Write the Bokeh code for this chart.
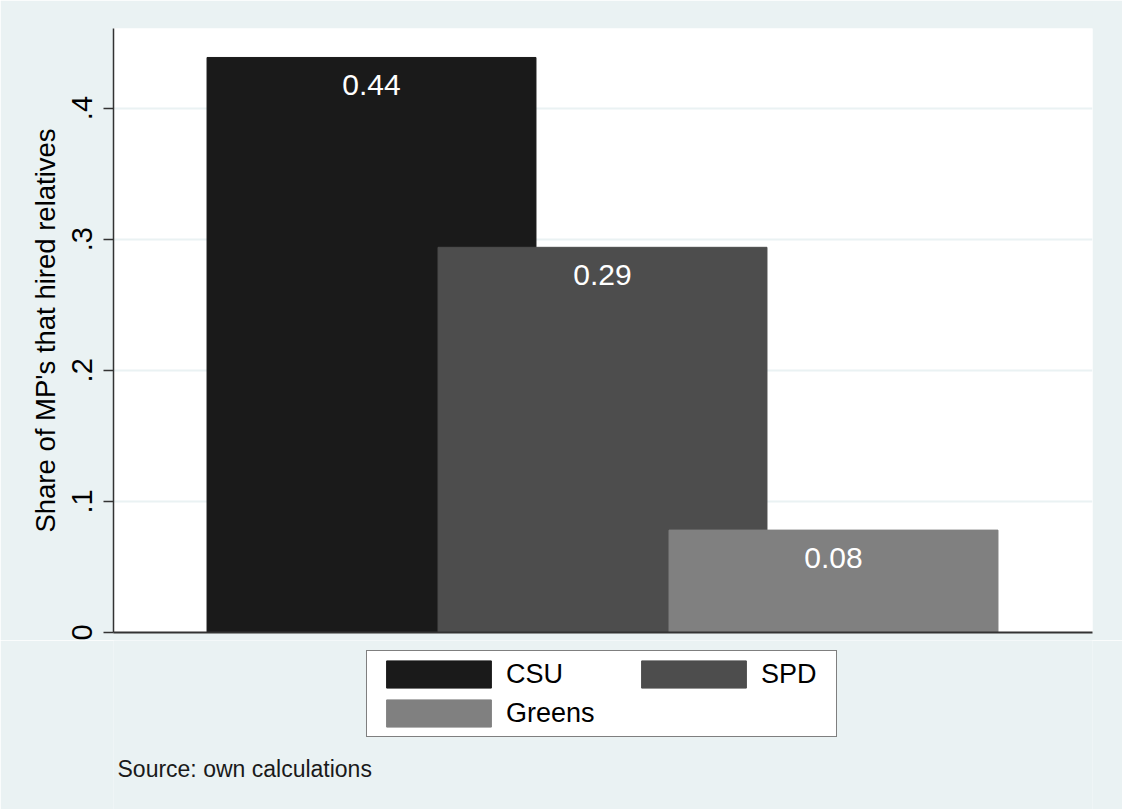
from bokeh.plotting import figure
from bokeh.layouts import column
from bokeh.models import (ColumnDataSource, Legend, LegendItem, Label, FixedTicker,
                          CustomJSTickFormatter, Range1d)
from bokeh.core.properties import value
from bokeh.embed import file_html
from bokeh.resources import INLINE

# ---- data ----
parties = ["CSU", "SPD", "Greens"]
shares = [0.4386, 0.2938, 0.0781]
colors = ["#1a1a1a", "#4d4d4d", "#808080"]
y_ticks = [0, 0.1, 0.2, 0.3, 0.4]
y_title = "Share of MP's that hired relatives"
note = "Source: own calculations"

positions = [1, 2, 3]
labels = ["%.2f" % s for s in shares]

BG = "#EAF2F3"
FONT = "Liberation Sans"

src = ColumnDataSource(dict(x=positions, top=shares, color=colors,
                            party=parties, label=labels))

# ---------------- main plot ----------------
p = figure(width=1122, height=640, output_backend="svg", toolbar_location=None,
           x_range=Range1d(-0.1169, 4.1212), y_range=Range1d(0, 0.4607),
           min_border_left=113, min_border_right=30, min_border_top=28,
           min_border_bottom=8)
p.background_fill_color = "white"
p.border_fill_color = BG
p.outline_line_color = None

p.xgrid.visible = False
p.ygrid.ticker = FixedTicker(ticks=y_ticks[1:])
p.ygrid.grid_line_color = BG
p.ygrid.grid_line_width = 2

r = p.vbar(x="x", top="top", width=1.424, bottom=0, source=src,
           fill_color="color", line_color="color", line_width=1)

p.text(x="x", y="top", text="label", source=src, text_color="white",
       text_font=value(FONT), text_font_size="30px", text_align="center",
       text_baseline="middle", y_offset=28)

ya = p.yaxis[0]
ya.ticker = FixedTicker(ticks=y_ticks)
ya.formatter = CustomJSTickFormatter(code="""
    if (tick == 0) { return "0"; }
    return tick.toFixed(1).replace(/^0/, "");
""")
ya.major_label_orientation = "vertical"
ya.major_label_text_font = FONT
ya.major_label_text_font_size = "29px"
ya.major_label_text_color = "black"
ya.major_label_standoff = 11
ya.major_tick_in = 0
ya.major_tick_out = 10
ya.major_tick_line_color = "#333333"
ya.major_tick_line_width = 1.5
ya.minor_tick_line_color = None
ya.axis_line_color = "#333333"
ya.axis_line_width = 1.5
ya.axis_label = y_title
ya.axis_label_text_font = FONT
ya.axis_label_text_font_size = "27.5px"
ya.axis_label_text_font_style = "normal"
ya.axis_label_text_color = "black"
ya.axis_label_standoff = 9

xa = p.xaxis[0]
xa.ticker = FixedTicker(ticks=[])
xa.major_tick_in = 0
xa.major_tick_out = 0
xa.major_label_standoff = 0
xa.major_tick_line_color = None
xa.minor_tick_line_color = None
xa.major_label_text_font_size = "0px"
xa.axis_line_color = "#333333"
xa.axis_line_width = 2

# ---------------- legend / note strip ----------------
p2 = figure(width=1122, height=169, output_backend="svg", toolbar_location=None,
            x_range=Range1d(10, 20), y_range=Range1d(10, 20),
            x_axis_type=None, y_axis_type=None,
            min_border_left=0, min_border_right=0, min_border_top=0, min_border_bottom=0)
p2.background_fill_color = BG
p2.border_fill_color = BG
p2.outline_line_color = None
p2.grid.visible = False

# legend swatches use the same bar style (these bars fall outside this strip's ranges)
r2 = p2.vbar(x="x", top="top", width=1.424, bottom=0, source=src,
             fill_color="color", line_color="color", line_width=1)

common = dict(orientation="vertical", glyph_width=131, glyph_height=34,
              label_standoff=2, spacing=5, padding=6, margin=0,
              label_text_font=FONT, label_text_font_size="27px",
              label_text_color="black")

# frame of this strip starts at x=113 (aligned with the main plot's frame)
legA = Legend(items=[LegendItem(label=parties[0], renderers=[r2], index=0),
                     LegendItem(label=parties[2], renderers=[r2], index=2)],
              location=(253, 72), label_width=324,
              border_line_color="black", border_line_width=1.2,
              background_fill_color="white", background_fill_alpha=1.0, **common)
legB = Legend(items=[LegendItem(label=parties[1], renderers=[r2], index=1)],
              location=(515, 118), label_width=60,
              border_line_color=None, background_fill_alpha=0.0, **common)
p2.add_layout(legA, "center")
p2.add_layout(legB, "center")

p2.add_layout(Label(x=4, y=41, x_units="screen", y_units="screen", text=note,
                    text_font=FONT, text_font_size="23px", text_color="#1a1a1a",
                    text_baseline="middle"))

layout = column(p, p2, spacing=0)
open("out.html", "w").write(file_html(layout, INLINE))
